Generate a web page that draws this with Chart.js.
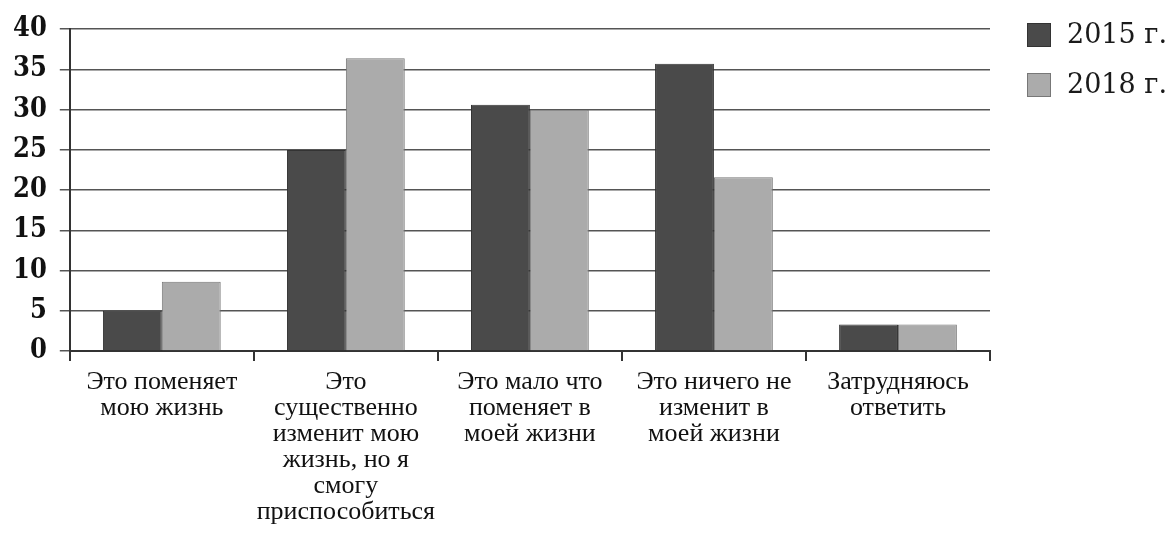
<!DOCTYPE html>
<html><head><meta charset="utf-8">
<script src="https://cdn.jsdelivr.net/npm/chart.js@4.4.0/dist/chart.umd.min.js"></script>
<style>html,body{margin:0;padding:0;background:#fff}#wrap{width:1172px;height:533px}</style>
</head><body><div id="wrap"><canvas id="c" width="1172" height="533"></canvas></div>
<script>
const categories = [
  ["Это поменяет","мою жизнь"],
  ["Это","существенно","изменит мою","жизнь, но я","смогу","приспособиться"],
  ["Это мало что","поменяет в","моей жизни"],
  ["Это ничего не","изменит в","моей жизни"],
  ["Затрудняюсь","ответить"]
];
const seriesNames = ["2015 г.","2018 г."];
const values2015 = [5, 25, 30.6, 35.7, 3.3];
const values2018 = [8.6, 36.4, 30, 21.6, 3.3];
const yTicks = [0,5,10,15,20,25,30,35,40];

const sideLegend = {
  id: 'sideLegend',
  afterDraw(chart) {
    const ctx = chart.ctx;
    const x = chart.chartArea.right + 37;
    ctx.save();
    chart.data.datasets.forEach((ds, i) => {
      const y = 23 + i * 50;
      ctx.fillStyle = ds.backgroundColor;
      ctx.fillRect(x, y, 24, 24);
      ctx.strokeStyle = ds.borderColor;
      ctx.lineWidth = 1;
      ctx.strokeRect(x + 0.5, y + 0.5, 23, 23);
      ctx.fillStyle = '#1a1a1a';
      ctx.font = '27px "DejaVu Serif"';
      ctx.textBaseline = 'middle';
      ctx.textAlign = 'left';
      ctx.fillText(ds.label, x + 40, y + 13);
    });
    ctx.restore();
  }
};

new Chart(document.getElementById('c'), {
  type: 'bar',
  data: {
    labels: categories,
    datasets: [
      {label: seriesNames[0], data: values2015, backgroundColor: '#4a4a4a', borderColor: '#333', borderWidth: 1},
      {label: seriesNames[1], data: values2018, backgroundColor: '#ababab', borderColor: '#777', borderWidth: 1}
    ]
  },
  options: {
    responsive: false,
    animation: false,
    layout: {padding: {top: 8, left: 0, right: 182, bottom: 0}},
    datasets: {bar: {categoryPercentage: 0.64, barPercentage: 1.0}},
    plugins: {
      legend: {display: false},
      tooltip: {enabled: false}
    },
    scales: {
      x: {
        grid: {display: true, drawOnChartArea: false, offset: true, tickLength: 10, color: '#333', lineWidth: 2},
        border: {color: '#333', width: 2},
        ticks: {color: '#111', maxRotation: 0, autoSkip: false, padding: 8,
          font: {family: 'Liberation Serif', size: 26, lineHeight: 1.0}}
      },
      y: {
        min: 0, max: 40,
        afterBuildTicks: (s) => { s.ticks = yTicks.map(v => ({value: v})); },
        grid: {color: '#555', lineWidth: 1.5, tickLength: 10},
        border: {color: '#333', width: 2},
        ticks: {color: '#111', padding: 13, font: {family: '"DejaVu Serif Condensed", "DejaVu Serif"', size: 27, weight: 'bold'}}
      }
    }
  },
  plugins: [sideLegend]
});
</script></body></html>
